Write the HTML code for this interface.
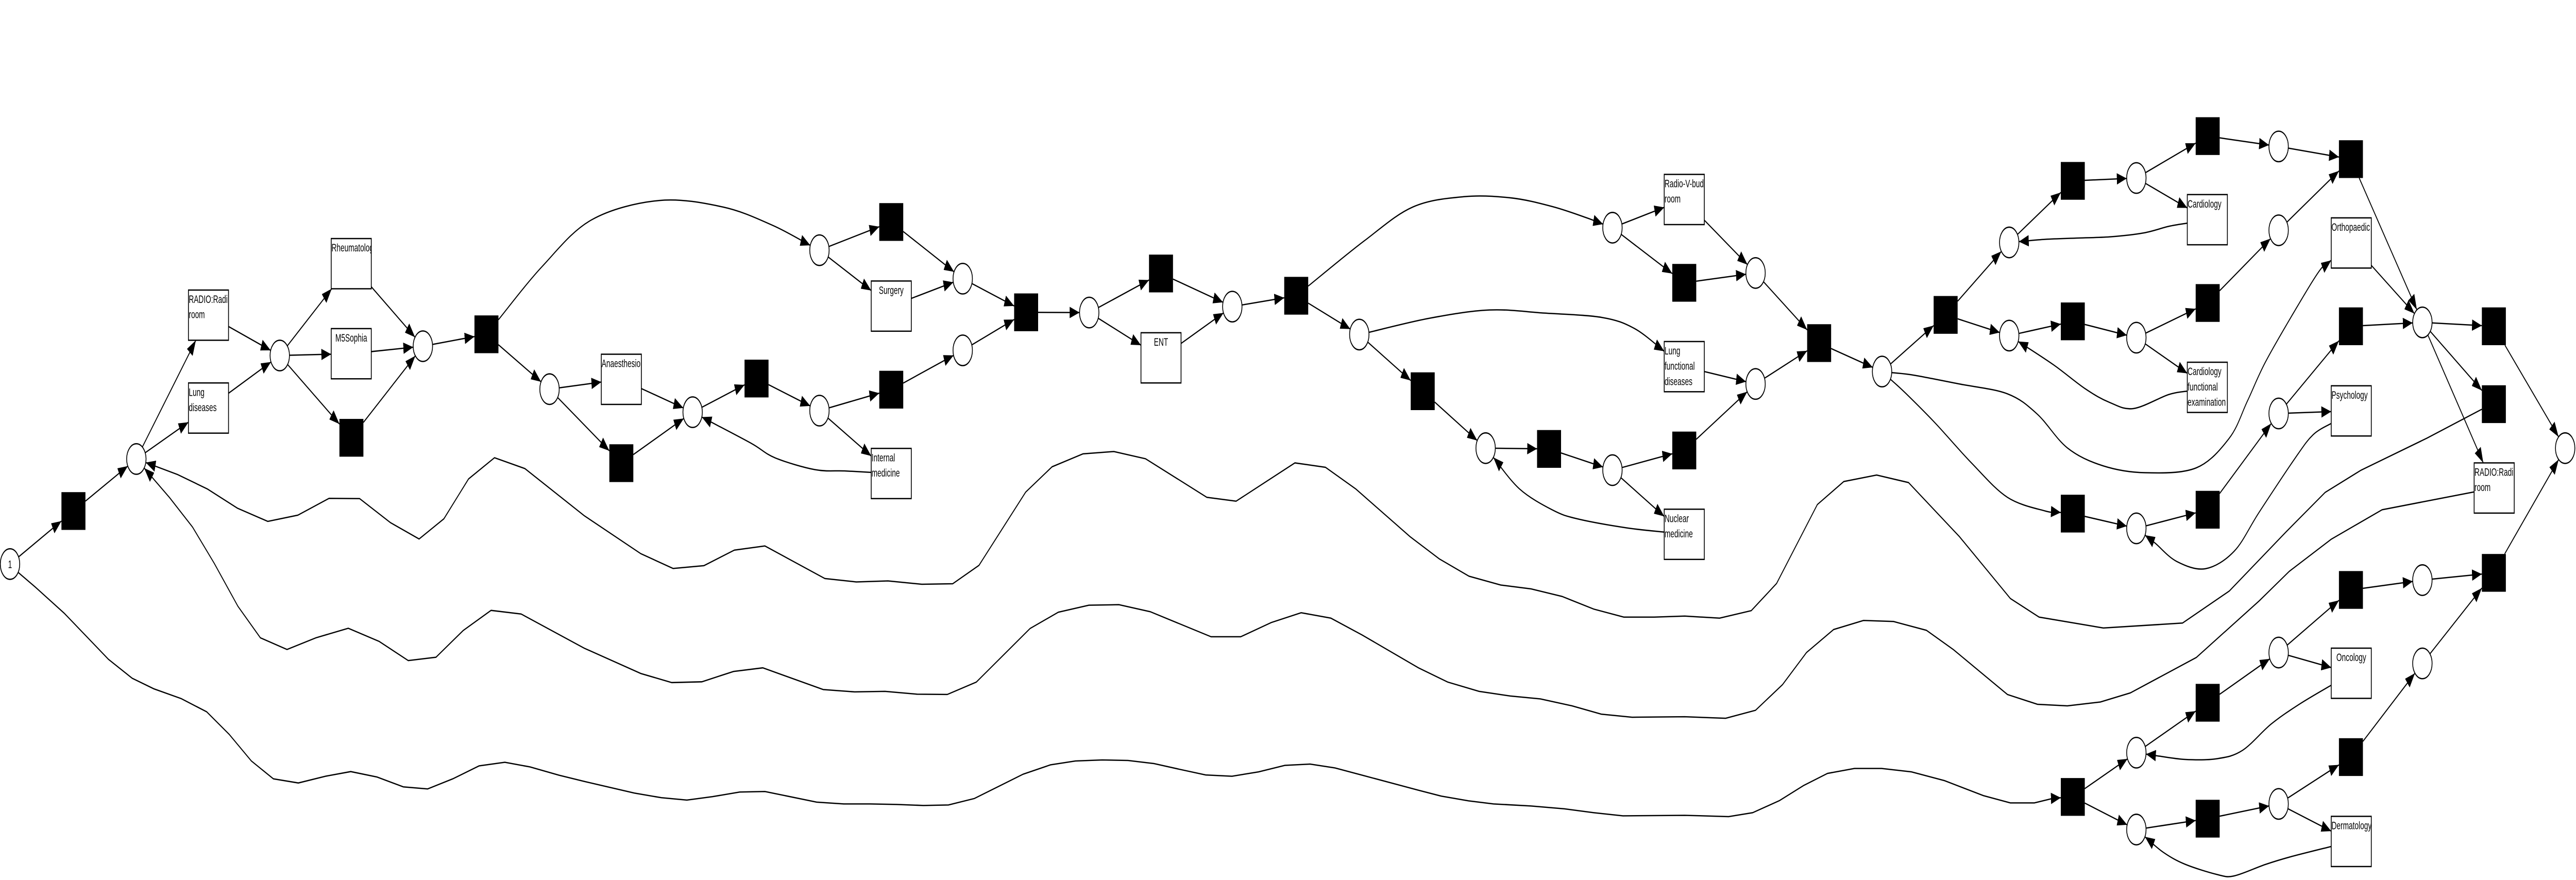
<!DOCTYPE html>
<html><head><meta charset="utf-8"><style>
html,body{margin:0;padding:0;background:#fff;overflow:hidden;width:100%;height:100%;}
svg{display:block;overflow:hidden;width:100vw;height:100vh;}
text{font-family:"Liberation Sans",Arial,sans-serif;font-size:4.3px;fill:#000;}
</style></head><body>
<svg id="net" xmlns="http://www.w3.org/2000/svg" viewBox="0 0 1568 340.1" preserveAspectRatio="none">
<defs><marker id="arr" markerWidth="6" markerHeight="4.4" refX="6" refY="2.2" orient="auto" markerUnits="userSpaceOnUse"><path d="M0,0 L6,2.2 L0,4.4z" fill="#000"/></marker></defs>
<g id="edges"></g><g id="nodes"></g>
</svg>
<script>
const places=[["p0",6.1,218,"1"],["p1",83,177.4],["p2",170.3,137.4],["p3",257.4,133.8],["p4",334.5,150.4],["p5",421.6,159.3],["p6",498.8,158.7],["p7",498.8,96.7],["p8",586,107.7],["p9",586,135.4],["p10",663,120.8],["p11",750.1,118.5],["p12",827.4,129.3],["p13",904.3,173.2],["p14",981.5,181.7],["p15",981.5,88],["p16",1068.6,105.5],["p17",1068.6,148.4],["p18",1145.6,143.6],["p19",1223,93.7],["p20",1223,129.7],["p21",1300.4,68.8],["p22",1300.4,130.5],["p23",1387,56.6],["p24",1387,89],["p25",1387,159.8],["p26",1300.4,204.2],["p27",1474.5,124.6],["p28",1474.5,224.2],["p29",1561.4,173.2],["p30",1387,252.2],["p31",1300.4,290.9],["p32",1300.4,320.6],["p33",1387,310.7],["p34",1474.5,256.4]];
const silent=[["t0",44.7,197.5],["t1",213.9,169.2],["t2",296.1,129.2],["t3",378.2,179],["t4",460.5,146.3],["t5",542.5,85.8],["t6",542.5,150.6],["t7",624.6,120.7],["t8",706.7,105.7],["t9",789,114.3],["t10",866,151.2],["t11",942.9,173.5],["t12",1025.2,109.3],["t13",1025.2,174.1],["t14",1107.3,132.6],["t15",1184.3,121.7],["t16",1261.7,69.9],["t17",1261.7,124.2],["t18",1343.8,52.6],["t19",1343.8,117.1],["t20",1431,61.5],["t21",1431,126.1],["t22",1518,126.1],["t23",1518,156.2],["t24",1261.7,198.5],["t25",1343.8,197],["t26",1431,228],["t27",1518,221.4],["t28",1343.8,271.6],["t29",1261.7,308],["t30",1343.8,316.4],["t31",1431,292.6]];
const boxes=[["b_radio1",114.7,112.1,["RADIO:Radi"," room"],0],["b_lung",114.7,148,["Lung","diseases"],0],["b_rheum",201.6,92.2,["Rheumatolog"],0],["b_m5",201.6,127,["M5Sophia"],1],["b_anaes",366,136.9,["Anaesthesio"],0],["b_surg",530.3,108.6,["Surgery"],1],["b_intmed",530.3,173.3,["Internal","medicine"],0],["b_ent",694.5,128.6,["ENT"],1],["b_radiov",1013,67.4,["Radio-V-bud"," room"],0],["b_lungf",1013,132,["Lung","functional","diseases"],0],["b_nuc",1013,196.8,["Nuclear","medicine"],0],["b_card",1331.4,75.2,["Cardiology"],0],["b_cardf",1331.4,140,["Cardiology","functional","examination"],0],["b_ortho",1419,84.2,["Orthopaedic"],0],["b_psych",1419,149.1,["Psychology"],0],["b_radio2",1506,178.9,["RADIO:Radi"," room"],0],["b_onc",1419,250.5,["Oncology"],1],["b_derm",1419,315.5,["Dermatology"],0]];
const edges=[["p0","t0"],["t0","p1"],["p1","b_radio1"],["p1","b_lung"],["b_radio1","p2"],["b_lung","p2"],["p2","b_rheum"],["p2","b_m5"],["p2","t1"],["b_rheum","p3"],["b_m5","p3"],["t1","p3"],["p3","t2"],
["t2","p7",[[330,103],[360,85],[401,77.5],[440,80],[470,87]],1],["t2","p4"],["p4","b_anaes"],["p4","t3"],["b_anaes","p5"],["t3","p5"],["p5","t4"],["t4","p6"],["p6","t6"],["p6","b_intmed"],
["b_intmed","p5",[[514,182],[496,181.5],[472,177],[458,171.6],[437,164.5]],1],["p7","t5"],["p7","b_surg"],["t5","p8"],["b_surg","p8"],["t6","p9"],["p8","t7"],["p9","t7"],["t7","p10"],["p10","t8"],["p10","b_ent"],["t8","p11"],["b_ent","p11"],["p11","t9"],
["t9","p15",[[830.4,93.1],[860,80],[891.4,76],[920,76.5],[944.7,79.8],[965,84]],1],["t9","p12"],["p12","b_lungf",[[870,123],[906.6,119.8],[940,121],[975.2,122.7],[995,127]],1],["p12","t10"],["t10","p13"],["p13","t11"],["t11","p14"],["p14","t13"],["p14","b_nuc"],
["b_nuc","p13",[[990,204],[960,200.5],[944.7,197],[925,189]],1],["p15","b_radiov"],["p15","t12"],["b_radiov","p16"],["t12","p16"],["p16","t14"],["b_lungf","p17"],["t13","p17"],["p17","t14"],["t14","p18"],["p18","t15"],["t15","p19"],["t15","p20"],["p19","t16"],["t16","p21"],["p21","t18"],["p21","b_card"],
["b_card","p19",[[1320,87.5],[1305,90],[1285,91.5],[1265,92],[1245,92.5]],1],["t18","p23"],["p23","t20"],["p20","t17"],["t17","p22"],["p22","t19"],["p22","b_cardf"],
["b_cardf","p20",[[1320,152.5],[1298.6,157.9],[1284,155.5],[1269.4,150.3],[1250,141]],1],["t19","p24"],["p24","t20"],
["p18","b_ortho",[[1165,145],[1192.7,148.4],[1221.9,152.2],[1240,160],[1258.4,173.1],[1280,180],[1305.9,182.7],[1336.9,180.8],[1357,169.3],[1368,155],[1378.9,140],[1397.1,119.8],[1412,104.5]],1],
["p18","t24",[[1160,152],[1178.1,163.6],[1200,178.9],[1221.9,192.2],[1245,197.5]],1],["t24","p26"],["p26","t25"],["t25","p25"],["p25","t21"],["p25","b_psych"],
["b_psych","p26",[[1408,168],[1397.1,177],[1375.2,197.9],[1360,213],[1342.4,219.8],[1325,217],[1312,210]],1],["b_ortho","p27"],["t20","p27"],["t21","p27"],["p27","t22"],["p27","t23"],["p27","b_radio2"],["t22","p29"],["t27","p29"],["t29","p31"],["t29","p32"],["p31","t28"],["t28","p30"],["p30","t26"],["p30","b_onc"],
["b_onc","p31",[[1400,272],[1382.5,279.8],[1365,290],[1349.7,293.2],[1330,293.5],[1312,292]],1],["t26","p28"],["p28","t27"],["p32","t30"],["t30","p33"],["p33","t31"],["p33","b_derm"],
["b_derm","p32",[[1395,331],[1378.9,334.1],[1360,338.5],[1349.7,338],[1330,334],[1316.8,329.4]],1],["t31","p34"],["p34","t27"],
["t23","p1",[[1510.3,158.3],[1477.4,169.3],[1437.2,181.7],[1415.3,190.3],[1391.6,205.5],[1357,228.4],[1328.5,240.8],[1280.3,242.7],[1241.2,238.5],[1223.7,231.3],[1192.7,207.4],[1161.7,186.5],[1142.3,183.6],[1122.3,186.1],[1106.2,195],[1081.4,225.5],[1066,236],[1046.7,238.9],[1025.5,238.1],[1006.9,238.5],[988.4,238.5],[970.1,235.4],[950.8,230.5],[932,227.6],[913.5,226.1],[894.2,222.7],[876.1,216],[858.3,207.4],[825.3,189],[806.8,180.6],[788.2,178.9],[752.4,193.7],[734.6,192.2],[697.3,177.3],[678,174.5],[659.2,175.4],[640.4,180.4],[624.3,190.2],[595.9,218.5],[579.9,225.6],[561.1,225.8],[540.5,224.5],[521.2,224.9],[502.1,223.6],[465.6,211],[447,212.6],[428.5,218.6],[409.7,219.7],[390.1,214],[355.6,199.3],[319.5,181.1],[301,176.9],[285.2,185.1],[270.2,200.5],[255.1,208.3],[237.7,202],[218.9,192.7],[200.3,192.6],[181.3,199.1],[163,201.5],[144.5,196.4],[126.3,189],[108.1,183.4]],0],
["b_radio2","p1",[[1450,197],[1419,208.4],[1393.5,220.8],[1375.2,232.2],[1336.9,254.1],[1296.7,267.8],[1278.5,271.3],[1258.4,272.8],[1240.2,272.2],[1221.9,268.4],[1207.3,260.7],[1189.1,251.1],[1172.6,243.6],[1152.6,240.2],[1134.3,239.8],[1116.1,243.3],[1099.6,252.2],[1085,264.6],[1068.6,274.5],[1050.4,277.6],[1025.5,277],[993.5,277.2],[974.7,276],[956.9,272.8],[937.6,270.1],[919.3,269],[900.3,267.2],[881.2,263.6],[863.4,258.1],[829.1,245.4],[810.1,238.9],[792,236.8],[773.8,240.6],[755.2,246.1],[737.2,246.1],[700.1,236.4],[681.1,233.7],[662.8,233.9],[644.2,236.6],[627,242.9],[594.3,263.6],[576.6,268.4],[558.3,268.3],[538.7,267.2],[520.2,267.4],[501.1,266.5],[464.3,258.1],[446.5,259.5],[427.2,263.5],[408.9,263.8],[390.1,260.3],[355.6,250.5],[317.2,237.3],[298.9,235.9],[281.9,243.7],[265.4,254],[248.5,255.3],[230.8,247.9],[212,242.8],[192.3,246.5],[174.7,251],[158.5,246.5],[144.8,234.3],[130.4,217.7],[117.2,203.7],[103.2,192.3]],0],
["p0","t29",[[11.2,221.3],[21.5,226.9],[39.1,237],[66,254.8],[80.4,262.1],[93.6,266.2],[110.3,270],[125.8,275.1],[139.5,283.8],[153,294.1],[166.4,301],[181.6,302.6],[198.1,300],[213.5,298.2],[229.5,300.3],[245.5,304.1],[260.3,304.9],[275.6,301],[291.6,296],[307.3,294.6],[322.6,296.4],[340.3,299.6],[355.6,302],[386.1,306.5],[402.6,308.3],[418.1,309.2],[433.6,307.9],[450.3,306.1],[465.6,305.9],[497.1,310],[513.6,310.7],[529.6,310.7],[545.7,310.9],[562.1,311.3],[577.3,311.1],[593.1,308.6],[622.8,299.2],[639.4,295.6],[654.6,294.1],[670.9,293.7],[686.6,293.9],[702.4,295.1],[718.6,297.4],[733.9,299.5],[749.9,300],[766.1,298.3],[782.1,295.8],[797.4,295.3],[812.6,296.8],[830.4,299.8],[863.4,305.4],[877.4,307.7],[893.9,309.5],[909.1,310.7],[932,311.5],[952.3,312.6],[970.1,314.1],[987.9,315.3],[1025.5,315.1],[1052.2,315.6],[1066.8,314.1],[1083.2,309.4],[1097.8,303.6],[1112.4,298.9],[1128.8,297],[1145.3,297],[1163.5,298.3],[1183.6,301.7],[1207.3,307.5],[1223.7,310.3],[1238.3,310.3],[1250,308.5]],0]];

const NS="http://www.w3.org/2000/svg";
const R=5.9,TW=14.6,BW=24.4,BH=19.4;
const nodes={};
places.forEach(p=>nodes[p[0]]={k:"c",cx:p[1],cy:p[2]});
silent.forEach(t=>nodes[t[0]]={k:"r",cx:t[1],cy:t[2],hw:TW/2,hh:TW/2});
boxes.forEach(b=>nodes[b[0]]={k:"r",cx:b[1]+BW/2,cy:b[2]+BH/2,hw:BW/2,hh:BH/2});
function clip(n,tx,ty){const dx=tx-n.cx,dy=ty-n.cy,L=Math.hypot(dx,dy)||1;
 if(n.k==="c")return [n.cx+dx/L*R,n.cy+dy/L*R];
 const s=Math.min(n.hw/Math.abs(dx||1e-9),n.hh/Math.abs(dy||1e-9));return [n.cx+dx*s,n.cy+dy*s];}
function mk(t,a){const e=document.createElementNS(NS,t);for(const k in a)e.setAttribute(k,a[k]);return e;}
const eg=document.getElementById("edges"),ng=document.getElementById("nodes");
edges.forEach((ed,i)=>{const a=nodes[ed[0]],b=nodes[ed[1]],w=ed[2]||[];
 const f=w.length?w[0]:[b.cx,b.cy],l=w.length?w[w.length-1]:[a.cx,a.cy];
 const pts=[clip(a,f[0],f[1])].concat(w,[clip(b,l[0],l[1])]);
 let d="M"+pts[0][0]+","+pts[0][1];
 if(ed[3]&&pts.length>2){for(let j=0;j<pts.length-1;j++){const p0=pts[j-1]||pts[j],p1=pts[j],p2=pts[j+1],p3=pts[j+2]||p2;
  d+=" C"+(p1[0]+(p2[0]-p0[0])/6)+","+(p1[1]+(p2[1]-p0[1])/6)+" "+(p2[0]-(p3[0]-p1[0])/6)+","+(p2[1]-(p3[1]-p1[1])/6)+" "+p2[0]+","+p2[1];}}
 else for(let j=1;j<pts.length;j++)d+=" L"+pts[j][0]+","+pts[j][1];
 const p=mk("path",{d:d,fill:"none",stroke:"#000","stroke-width":"0.5","marker-end":"url(#arr)"});
 
 
 eg.appendChild(p);});
places.forEach(pl=>{const c=mk("ellipse",{cx:pl[1],cy:pl[2],rx:R,ry:R,fill:"#fff",stroke:"#000","stroke-width":"0.5"});
 
 
 ng.appendChild(c);
 if(pl[3]){const t=mk("text",{x:pl[1],y:pl[2]+1.5,"text-anchor":"middle","font-size":"4"});t.textContent=pl[3];
  
  
  ng.appendChild(t);}});
silent.forEach(s=>{const r=mk("rect",{x:s[1]-TW/2,y:s[2]-TW/2,width:TW,height:TW,fill:"#000"});
 
 
 ng.appendChild(r);});
const defs=document.querySelector("defs");
boxes.forEach(b=>{const g=mk("g",{});
 
 
 const cp=mk("clipPath",{id:"cp"+b[0]});cp.appendChild(mk("rect",{x:b[1],y:b[2],width:BW,height:BH}));defs.appendChild(cp);
 g.appendChild(mk("rect",{x:b[1],y:b[2],width:BW,height:BH,fill:"#fff",stroke:"#000","stroke-width":"0.5"}));
 b[3].forEach((ln,i)=>{const t=mk("text",b[4]?{x:b[1]+BW/2,y:b[2]+5+i*5.9,"text-anchor":"middle","clip-path":"url(#cp"+b[0]+")"}:{x:b[1]+0.2,y:b[2]+5+i*5.9,"clip-path":"url(#cp"+b[0]+")"});
  t.setAttribute("xml:space","preserve");t.textContent=ln;
  
  
  g.appendChild(t);});
 ng.appendChild(g);});
</script>
</body></html>
